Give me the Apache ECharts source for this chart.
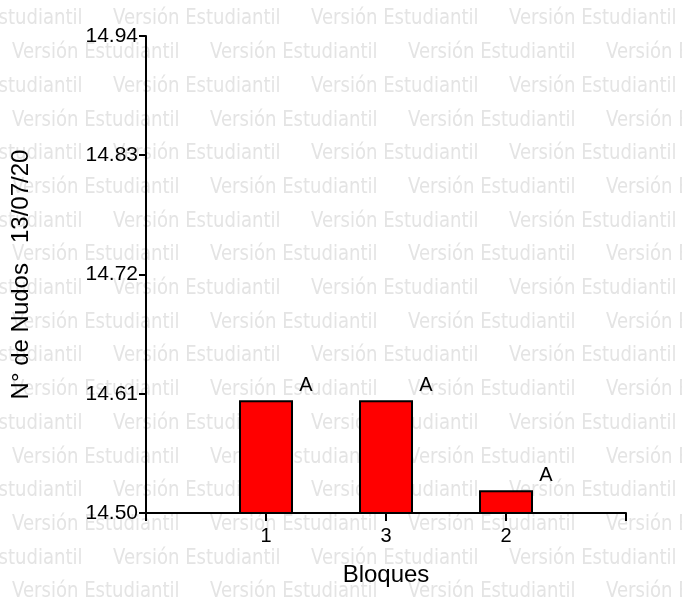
<!DOCTYPE html>
<html>
<head>
<meta charset="utf-8">
<script src="https://cdn.jsdelivr.net/npm/echarts@6/dist/echarts.min.js"></script>
<style>
  html, body { margin: 0; padding: 0; background: #fff; }
  #chart { width: 682px; height: 610px; }
</style>
</head>
<body>
<div id="chart"></div>
<script>
// datos
var categorias = ['1', '3', '2'];
var nudos = [14.604, 14.604, 14.521];
var letras = ['A', 'A', 'A'];
var yTicks = [14.50, 14.61, 14.72, 14.83, 14.94];

chart_nudos();

function marcaAgua() {
    // texto de fondo "Versión Estudiantil"
    var hijos = [];
    for (var i = 0; i < 18; i++) {
        var y = 19 + i * 33.7;
        var x0 = i % 2 == 0 ? -85 : 12;
        for (var x = x0; x < 682; x += 198) {
            hijos.push({
                type: 'text',
                x: x,
                y: y,
                scaleX: 0.86,
                silent: true,
                style: {
                    text: 'Versión Estudiantil',
                    fill: '#e4e4e4',
                    font: '21px "DejaVu Sans"',
                    verticalAlign: 'middle'
                }
            });
        }
    }
    return [{ type: 'group', x: 0, y: 0, z: -10, silent: true, children: hijos }];
}

function chart_nudos() {
    var dom = document.getElementById('chart');
    var myChart = echarts.init(dom, null, { renderer: 'canvas' });
    var fuente = '"Liberation Sans", Arial, sans-serif';

    var ejeX = [''].concat(categorias).concat(['']);
    var datos = ['-'].concat(nudos).concat(['-']);

    var option = {
        backgroundColor: '#fff',
        animation: false,
        graphic: marcaAgua(),
        grid: { left: 146, right: 56, top: 36, bottom: 97 },
        xAxis: {
            type: 'category',
            data: ejeX,
            boundaryGap: false,
            name: 'Bloques',
            nameLocation: 'middle',
            nameGap: 50,
            nameTextStyle: { color: '#000', fontSize: 24, fontFamily: fuente },
            axisLine: { lineStyle: { color: '#000', width: 2 } },
            axisTick: { show: true, length: 8, alignWithLabel: true, lineStyle: { color: '#000', width: 2 } },
            axisLabel: { color: '#000', fontSize: 20, fontFamily: fuente, margin: 13, interval: 0 },
            splitLine: { show: false }
        },
        yAxis: {
            type: 'value',
            min: 14.50,
            max: 14.94,
            name: 'N° de Nudos   13/07/20',
            nameLocation: 'middle',
            nameGap: 113,
            nameTextStyle: { color: '#000', fontSize: 24, fontFamily: fuente },
            axisLine: { show: true, lineStyle: { color: '#000', width: 2 } },
            axisTick: { show: true, length: 7, customValues: yTicks, lineStyle: { color: '#000', width: 2 } },
            axisLabel: {
                color: '#000', fontSize: 21, fontFamily: fuente, margin: 8,
                customValues: yTicks,
                formatter: function (v) { return v.toFixed(2); }
            },
            splitLine: { show: false }
        },
        series: [{
            type: 'bar',
            data: datos,
            barWidth: 54,
            itemStyle: { color: '#ff0000', borderColor: '#000', borderWidth: 2 },
            label: {
                show: true,
                position: 'top',
                offset: [40, 0],
                color: '#000',
                fontSize: 20,
                fontFamily: fuente,
                formatter: function (p) { return letras[p.dataIndex - 1]; }
            }
        }]
    };

    myChart.setOption(option);
    window.addEventListener('resize', myChart.resize);
}
</script>
</body>
</html>
